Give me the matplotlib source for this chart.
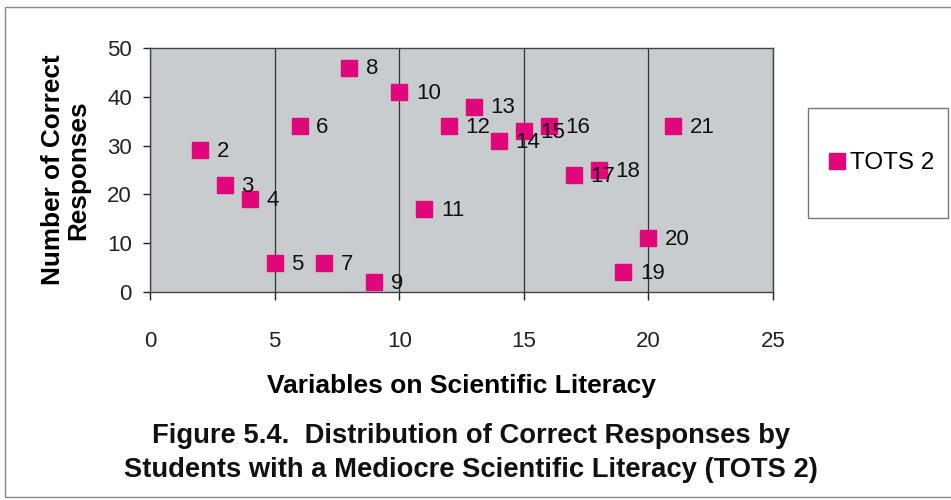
import matplotlib
matplotlib.use('Agg')
import matplotlib.pyplot as plt
from matplotlib.patches import Rectangle

plt.rcParams['font.family'] = ['Liberation Sans', 'DejaVu Sans']

# --- data ---
variables = [2, 3, 4, 5, 6, 7, 8, 9, 10, 11, 12, 13, 14, 15, 16, 17, 18, 19, 20, 21]
correct = [29, 22, 19, 6, 34, 6, 46, 2, 41, 17, 34, 38, 31, 33, 34, 24, 25, 4, 11, 34]
point_labels = [str(v) for v in variables]
series_name = 'TOTS 2'

x_ticks = [0, 5, 10, 15, 20, 25]
y_ticks = [0, 10, 20, 30, 40, 50]

pink = '#e0077a'
plot_bg = '#c8ccce'

fig = plt.figure(figsize=(9.51, 5.0), dpi=100)
ax = fig.add_axes([150/951, 1 - 292/500, 623/951, 244/500])
ax.set_facecolor(plot_bg)

ax.plot(variables, correct, 's', color=pink, markersize=11, linestyle='none',
        label=series_name, zorder=3)
for xv, yv, lab in zip(variables, correct, point_labels):
    ax.annotate(lab, (xv, yv), textcoords='offset points', xytext=(12, -1),
                ha='left', va='center', fontsize=16, color='#111', zorder=4)

ax.set_xlim(0, 25)
ax.set_ylim(0, 50)
ax.set_xticks(x_ticks)
ax.set_yticks(y_ticks)
ax.tick_params(axis='x', direction='out', length=6, width=1, pad=22,
               labelsize=16, colors='#222')
ax.tick_params(axis='y', direction='out', length=5, width=1, pad=8,
               labelsize=16, colors='#222')
ax.grid(True, axis='x', color='#333', linewidth=0.9)
for side in ('left', 'bottom', 'top', 'right'):
    ax.spines[side].set_color('#444')
    ax.spines[side].set_linewidth(1.0)

ax.set_xlabel('Variables on Scientific Literacy', fontsize=19,
              fontweight='bold', labelpad=16)
ax.set_ylabel('Number of Correct\nResponses', fontsize=18.8,
              fontweight='bold', labelpad=12, linespacing=1.1)

# legend: text/marker from the library, box drawn to match the original size
leg = fig.legend(loc='center', bbox_to_anchor=(882/951, 1 - 163/500),
                 fontsize=17.5, frameon=False, handlelength=0.6,
                 handletextpad=0.25, markerscale=1.1)
fig.patches.append(Rectangle((808/951, 1 - 218/500), 140/951, 110/500,
                             transform=fig.transFigure, fill=False,
                             edgecolor='#777', linewidth=1.0))

fig.text(471/951, 1 - 436/500,
         'Figure 5.4.  Distribution of Correct Responses by',
         ha='center', va='center', fontsize=19.7, fontweight='bold', color='#111')
fig.text(471/951, 1 - 470/500,
         'Students with a Mediocre Scientific Literacy (TOTS 2)',
         ha='center', va='center', fontsize=19.7, fontweight='bold', color='#111')

# outer chart border
fig.patches.append(Rectangle((5/951, 3/500), 1.0, 490/500, transform=fig.transFigure,
                             fill=False, edgecolor='#888', linewidth=1.0))

fig.savefig('out.png', dpi=100)
